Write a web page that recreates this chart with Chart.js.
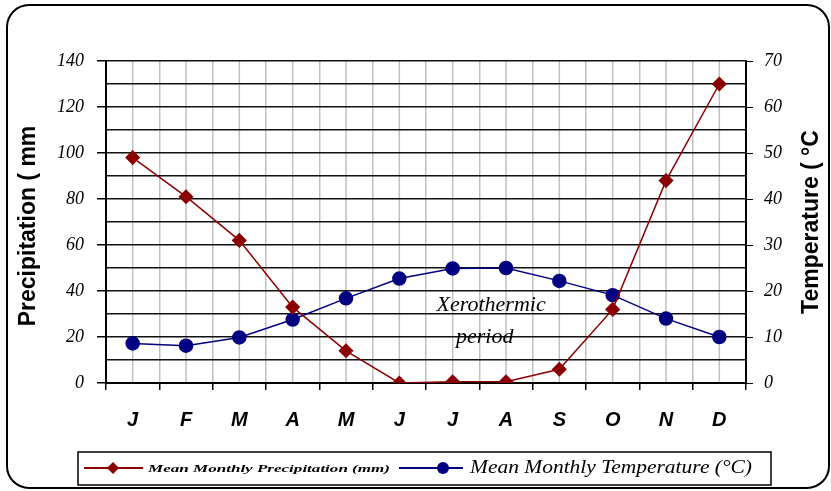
<!DOCTYPE html>
<html>
<head>
<meta charset="utf-8">
<script src="https://cdn.jsdelivr.net/npm/chart.js@4.4.1/dist/chart.umd.min.js"></script>
<style>
  html, body { margin: 0; padding: 0; background: #fff; }
  #wrap { width: 831px; height: 491px; }
</style>
</head>
<body>
<div id="wrap"><canvas id="climateChart" width="831" height="491"></canvas></div>
<script>
const months = ['J', 'F', 'M', 'A', 'M', 'J', 'J', 'A', 'S', 'O', 'N', 'D'];
const precipitation = [98, 81, 62, 33, 14, 0, 0.5, 0.5, 6, 32, 88, 130];
const temperature = [8.6, 8.1, 9.9, 13.8, 18.4, 22.7, 24.9, 25, 22.2, 19.1, 14, 10];
const precipTicks = [0, 20, 40, 60, 80, 100, 120, 140];
const tempTicks = [0, 10, 20, 30, 40, 50, 60, 70];

const precipLabel = 'Mean Monthly Precipitation (mm)';
const tempLabel = 'Mean Monthly Temperature (°C)';

const RED = '#8b0000';
const BLUE = '#000080';

// frame, centre lines, titles, annotation and legend
const decorPlugin = {
    id: 'decor',
    beforeDraw(chart) {
        const ctx = chart.ctx;
        const area = chart.chartArea;
        const x = chart.scales.x;
        ctx.save();
        // rounded outer frame
        ctx.strokeStyle = '#000';
        ctx.lineWidth = 2;
        ctx.beginPath();
        ctx.roundRect(7, 5, 822, 483, 22);
        ctx.stroke();
        // gray lines through each month
        ctx.strokeStyle = '#c0c0c0';
        ctx.lineWidth = 1.5;
        months.forEach((m, i) => {
            const px = x.getPixelForValue(i);
            ctx.beginPath();
            ctx.moveTo(px, area.top);
            ctx.lineTo(px, area.bottom);
            ctx.stroke();
        });
        ctx.restore();
    },
    afterDraw(chart) {
        const ctx = chart.ctx;
        const x = chart.scales.x;
        const y = chart.scales.y;
        ctx.save();
        ctx.fillStyle = '#000';
        ctx.textAlign = 'center';
        ctx.textBaseline = 'middle';

        // axis titles, both read bottom to top
        ctx.font = 'bold 23px "Liberation Sans"';
        ctx.save();
        ctx.translate(29, 226);
        ctx.rotate(-Math.PI / 2);
        ctx.fillText('Precipitation ( mm', 0, 0);
        ctx.restore();
        ctx.save();
        ctx.translate(812, 222);
        ctx.rotate(-Math.PI / 2);
        ctx.fillText('Temperature ( °C', 0, 0);
        ctx.restore();

        // annotation
        ctx.font = 'italic 22px "Liberation Serif"';
        ctx.fillText('Xerothermic', x.getPixelForValue(6.72), y.getPixelForValue(34));
        ctx.fillText('period', x.getPixelForValue(6.6), y.getPixelForValue(20));

        // legend box
        ctx.strokeStyle = '#000';
        ctx.lineWidth = 1.5;
        ctx.strokeRect(78, 452, 693, 33);
        const ly = 468;

        ctx.strokeStyle = RED;
        ctx.lineWidth = 2;
        ctx.beginPath();
        ctx.moveTo(84, ly);
        ctx.lineTo(143, ly);
        ctx.stroke();
        ctx.fillStyle = RED;
        ctx.beginPath();
        ctx.moveTo(113, ly - 6);
        ctx.lineTo(119, ly);
        ctx.lineTo(113, ly + 6);
        ctx.lineTo(107, ly);
        ctx.closePath();
        ctx.fill();

        ctx.strokeStyle = BLUE;
        ctx.beginPath();
        ctx.moveTo(399, ly);
        ctx.lineTo(463, ly);
        ctx.stroke();
        ctx.fillStyle = BLUE;
        ctx.beginPath();
        ctx.arc(443, ly, 6, 0, Math.PI * 2);
        ctx.fill();

        ctx.fillStyle = '#000';
        ctx.textAlign = 'left';
        drawStretched(ctx, precipLabel, 'bold italic 10px "Liberation Serif"', 148, ly + 1, 242);
        drawStretched(ctx, tempLabel, 'italic 19px "Liberation Serif"', 470, ly, 282);
        ctx.restore();
    }
};

function drawStretched(ctx, text, font, left, mid, width) {
    ctx.save();
    ctx.font = font;
    const w = ctx.measureText(text).width;
    ctx.translate(left, mid);
    ctx.scale(width / w, 1);
    ctx.fillText(text, 0, 0);
    ctx.restore();
}

const chart = new Chart(document.getElementById('climateChart'), {
    type: 'line',
    data: {
        labels: months,
        datasets: [{
            label: precipLabel,
            data: precipitation,
            yAxisID: 'y',
            borderColor: RED,
            backgroundColor: RED,
            borderWidth: 1.5,
            pointStyle: 'rectRot',
            pointRadius: 6.5,
            pointHoverRadius: 6.5,
            tension: 0
        }, {
            label: tempLabel,
            data: temperature,
            yAxisID: 'y2',
            borderColor: BLUE,
            backgroundColor: BLUE,
            borderWidth: 1.5,
            pointStyle: 'circle',
            pointRadius: 6.5,
            pointHoverRadius: 6.5,
            tension: 0
        }]
    },
    options: {
        responsive: false,
        animation: false,
        layout: { padding: { top: 61, left: 0, right: 0, bottom: 0 } },
        plugins: {
            legend: { display: false },
            tooltip: { enabled: false }
        },
        scales: {
            x: {
                offset: true,
                grid: {
                    offset: true,
                    color: '#c0c0c0',
                    lineWidth: 1.5,
                    tickColor: '#000',
                    tickLength: 7
                },
                border: { color: '#000', width: 2 },
                ticks: {
                    color: '#000',
                    padding: 18,
                    font: { family: '"Liberation Sans"', size: 20, style: 'italic', weight: 'bold' }
                },
                afterFit: s => { s.height = 108; }
            },
            y: {
                position: 'left',
                min: 0,
                max: 140,
                grid: {
                    color: '#111',
                    lineWidth: 1.5,
                    tickLength: 9,
                    tickColor: c => precipTicks.includes(c.tick.value) ? '#000' : 'rgba(0,0,0,0)'
                },
                border: { color: '#000', width: 2 },
                ticks: {
                    stepSize: 10,
                    autoSkip: false,
                    color: '#000',
                    padding: 13,
                    font: { family: '"Liberation Serif"', size: 18, style: 'italic' },
                    callback: v => precipTicks.includes(v) ? v : ''
                },
                afterFit: s => { s.width = 106; }
            },
            y2: {
                position: 'right',
                min: 0,
                max: 70,
                grid: {
                    drawOnChartArea: false,
                    tickLength: 7,
                    tickColor: '#000'
                },
                border: { color: '#000', width: 2 },
                ticks: {
                    stepSize: 10,
                    autoSkip: false,
                    color: '#000',
                    padding: 11,
                    font: { family: '"Liberation Serif"', size: 18, style: 'italic' },
                    callback: v => tempTicks.includes(v) ? v : ''
                },
                afterFit: s => { s.width = 85; }
            }
        }
    },
    plugins: [decorPlugin]
});
</script>
</body>
</html>
